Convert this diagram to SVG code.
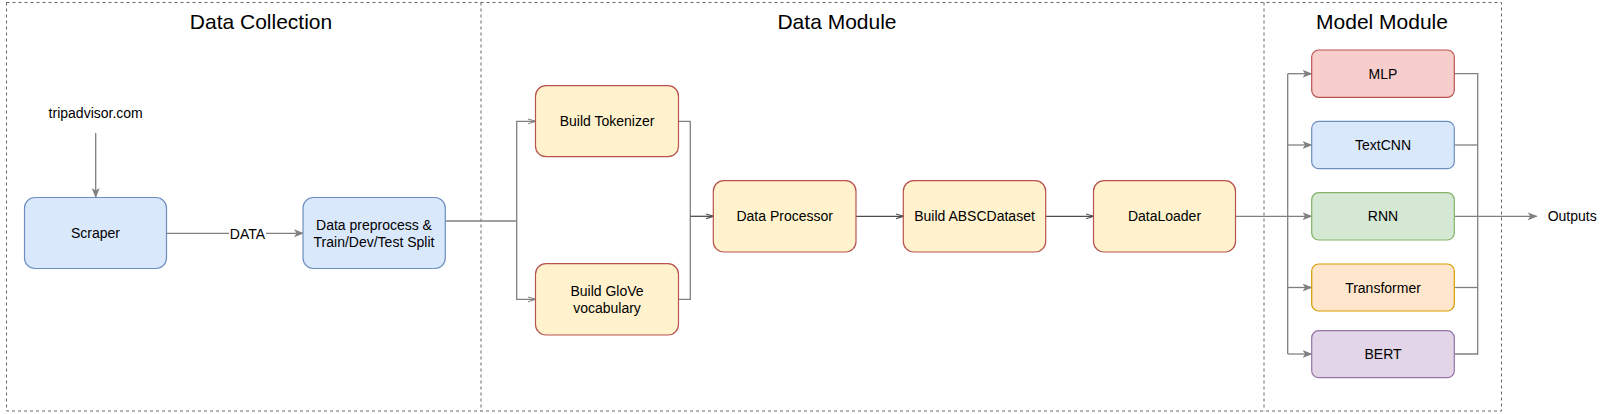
<svg xmlns="http://www.w3.org/2000/svg" width="1600" height="414" viewBox="0 0 1600 414">
<defs>
<style>
text{font-family:"Liberation Sans",Arial,Helvetica,sans-serif;fill:#000;}
.title{font-size:21px;text-anchor:middle;}
.lbl{font-size:14px;text-anchor:middle;}
.frame{fill:none;stroke:#666;stroke-width:1;stroke-dasharray:3 3;}
.box{stroke-width:1.2;}
.yel{fill:#fff2cc;stroke:#b85450;}
.blu{fill:#dae8fc;stroke:#6c8ebf;}
.red{fill:#f8cecc;stroke:#b85450;}
.grn{fill:#d5e8d4;stroke:#82b366;}
.org{fill:#ffe6cc;stroke:#d79b00;}
.pur{fill:#e1d5e7;stroke:#9673a6;}
.e{fill:none;stroke:#808080;stroke-width:1.3;}
.ed{fill:none;stroke:#4d4d4d;stroke-width:1.3;}
</style>
<marker id="fill" viewBox="0 0 10 10" refX="9" refY="5" markerWidth="10" markerHeight="10" markerUnits="userSpaceOnUse" orient="auto">
<path d="M0,1 L10,5 L0,9 L2.5,5 Z" fill="#808080"/>
</marker>
<marker id="open" viewBox="0 0 10 10" refX="9.5" refY="5" markerWidth="8" markerHeight="8" markerUnits="userSpaceOnUse" orient="auto">
<path d="M0,2 L10,5 L0,8" fill="none" stroke="#808080" stroke-width="1.3"/>
</marker>
<marker id="openD" viewBox="0 0 10 10" refX="9.5" refY="5" markerWidth="8" markerHeight="8" markerUnits="userSpaceOnUse" orient="auto">
<path d="M0,2 L10,5 L0,8" fill="none" stroke="#4d4d4d" stroke-width="1.3"/>
</marker>
</defs>
<rect width="1600" height="414" fill="#fff"/>

<g id="frames">
<rect class="frame" x="6.5" y="2.5" width="1495" height="408.5"/>
<line class="frame" x1="481" y1="2.5" x2="481" y2="411"/>
<line class="frame" x1="1264" y1="2.5" x2="1264" y2="411"/>
<text class="title" x="261" y="29">Data Collection</text>
<text class="title" x="837" y="29">Data Module</text>
<text class="title" x="1382" y="29">Model Module</text>
</g>

<g id="connectors">
<line class="e" x1="95.7" y1="133" x2="95.7" y2="197" marker-end="url(#fill)"/>
<line class="e" x1="166.7" y1="233.3" x2="303" y2="233.3" marker-end="url(#fill)"/>
<rect x="229" y="224" width="37" height="18" fill="#fff"/>
<text class="lbl" x="247.5" y="238.5">DATA</text>
<polyline class="e" points="445.3,221 516.7,221"/>
<polyline class="e" points="516.7,221 516.7,121.3 535.5,121.3" marker-end="url(#open)"/>
<polyline class="e" points="516.7,221 516.7,299.3 535.5,299.3" marker-end="url(#open)"/>
<polyline class="e" points="678.5,121.3 690.3,121.3 690.3,299.3 678.5,299.3"/>
<line class="ed" x1="690.3" y1="216.3" x2="713.3" y2="216.3" marker-end="url(#openD)"/>
<line class="ed" x1="856" y1="216.3" x2="903.3" y2="216.3" marker-end="url(#openD)"/>
<line class="ed" x1="1045.7" y1="216.3" x2="1093.5" y2="216.3" marker-end="url(#openD)"/>
<line class="e" x1="1235.5" y1="216.3" x2="1311.5" y2="216.3" marker-end="url(#fill)"/>
<line class="e" x1="1287.7" y1="73.7" x2="1287.7" y2="354"/>
<line class="e" x1="1287.7" y1="73.7" x2="1311.5" y2="73.7" marker-end="url(#fill)"/>
<line class="e" x1="1287.7" y1="145" x2="1311.5" y2="145" marker-end="url(#fill)"/>
<line class="e" x1="1287.7" y1="287.5" x2="1311.5" y2="287.5" marker-end="url(#fill)"/>
<line class="e" x1="1287.7" y1="354" x2="1311.5" y2="354" marker-end="url(#fill)"/>
<polyline class="e" points="1454.5,73.7 1477.7,73.7 1477.7,354 1454.5,354"/>
<line class="e" x1="1454.5" y1="145" x2="1477.7" y2="145"/>
<line class="e" x1="1454.5" y1="287.5" x2="1477.7" y2="287.5"/>
<line class="e" x1="1454.5" y1="216.3" x2="1536.7" y2="216.3" marker-end="url(#fill)"/>
</g>

<g id="tripadvisor"><text class="lbl" x="95.7" y="118">tripadvisor.com</text></g>

<g id="scraper">
<rect class="box blu" x="24.5" y="197.5" width="142" height="71" rx="10.5"/>
<text class="lbl" x="95.5" y="238.3">Scraper</text>
</g>
<g id="preprocess">
<rect class="box blu" x="303" y="197.5" width="142.3" height="71" rx="10.5"/>
<text class="lbl" x="374" y="229.5">Data preprocess &amp;</text>
<text class="lbl" x="374" y="247.3">Train/Dev/Test Split</text>
</g>
<g id="tokenizer">
<rect class="box yel" x="535.5" y="85.7" width="143" height="71" rx="10.5"/>
<text class="lbl" x="607" y="126.3">Build Tokenizer</text>
</g>
<g id="glove">
<rect class="box yel" x="535.5" y="263.7" width="143" height="71.3" rx="10.5"/>
<text class="lbl" x="607" y="295.5">Build GloVe</text>
<text class="lbl" x="607" y="313.3">vocabulary</text>
</g>
<g id="processor">
<rect class="box yel" x="713.3" y="180.7" width="142.7" height="71.3" rx="10.5"/>
<text class="lbl" x="784.7" y="221.3">Data Processor</text>
</g>
<g id="absc">
<rect class="box yel" x="903.3" y="180.7" width="142.4" height="71.3" rx="10.5"/>
<text class="lbl" x="974.5" y="221.3">Build ABSCDataset</text>
</g>
<g id="dataloader">
<rect class="box yel" x="1093.5" y="180.7" width="142" height="71.3" rx="10.5"/>
<text class="lbl" x="1164.5" y="221.3">DataLoader</text>
</g>
<g id="mlp">
<rect class="box red" x="1311.7" y="50" width="142.6" height="47.3" rx="7"/>
<text class="lbl" x="1383" y="78.7">MLP</text>
</g>
<g id="textcnn">
<rect class="box blu" x="1311.7" y="121.3" width="142.6" height="47.4" rx="7"/>
<text class="lbl" x="1383" y="150">TextCNN</text>
</g>
<g id="rnn">
<rect class="box grn" x="1311.7" y="192.7" width="142.6" height="47.3" rx="7"/>
<text class="lbl" x="1383" y="221.3">RNN</text>
</g>
<g id="transformer">
<rect class="box org" x="1311.7" y="264" width="142.6" height="47" rx="7"/>
<text class="lbl" x="1383" y="292.5">Transformer</text>
</g>
<g id="bert">
<rect class="box pur" x="1311.7" y="330.7" width="142.6" height="47" rx="7"/>
<text class="lbl" x="1383" y="359">BERT</text>
</g>
<g id="outputs"><text x="1547.7" y="221.3" style="font-size:14px">Outputs</text></g>
</svg>
